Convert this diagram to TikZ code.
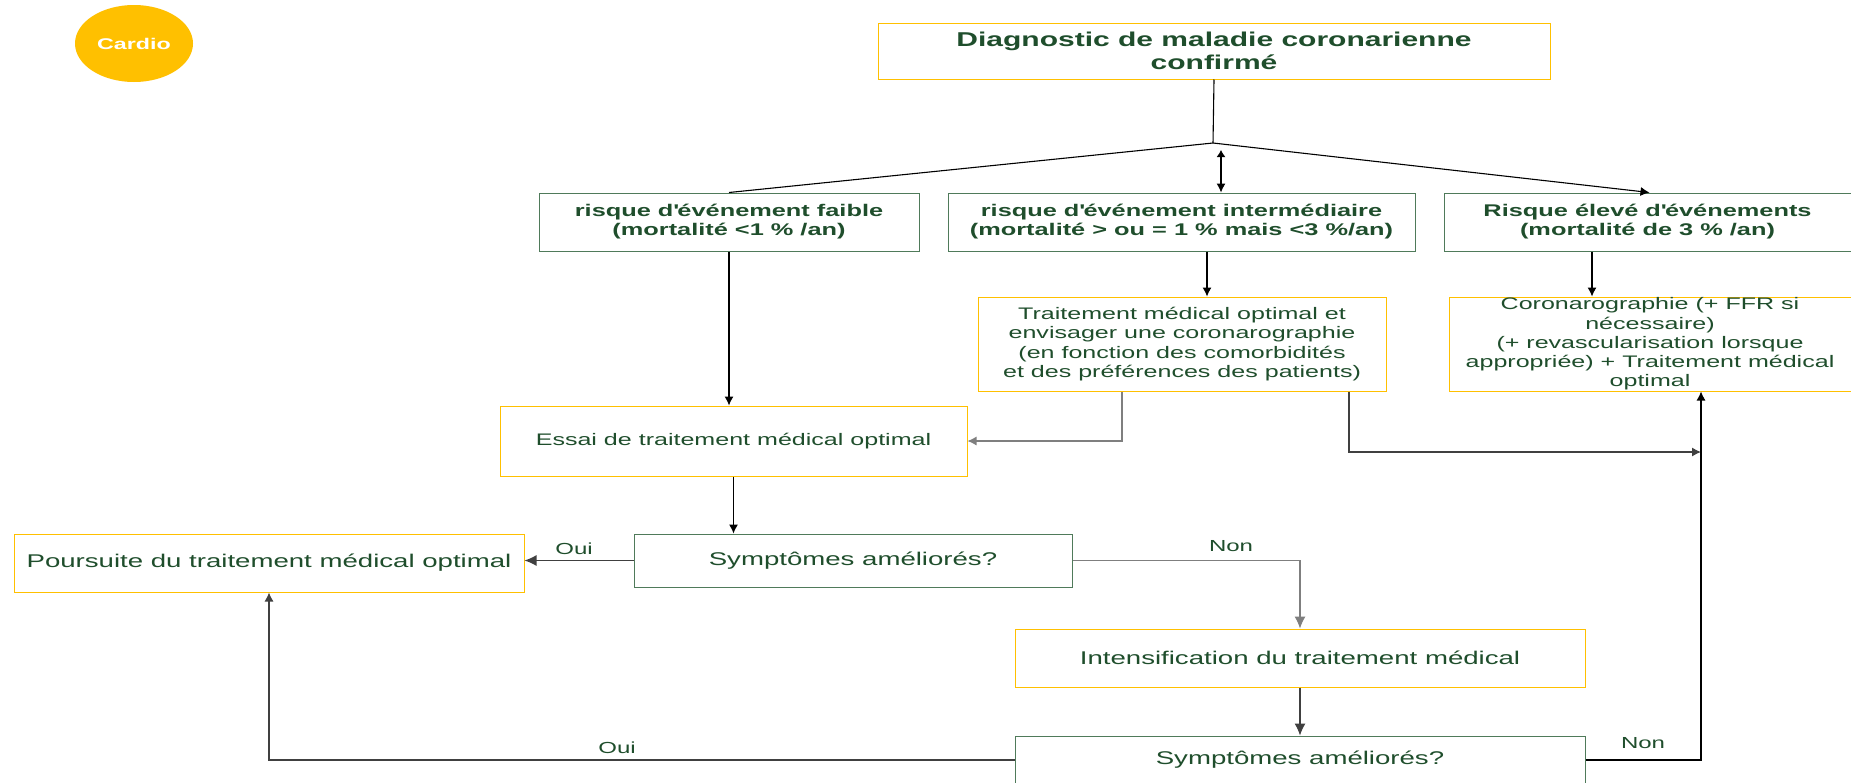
\documentclass[tikz,border=0pt]{standalone}
\usepackage{fontspec}
\setmainfont{Liberation Sans}[FakeStretch=1.5]
\usetikzlibrary{arrows.meta,shapes.geometric}
\definecolor{txt}{HTML}{1F4E2C}
\definecolor{gbord}{HTML}{4F7A5A}
\definecolor{ybord}{HTML}{FFC000}
\definecolor{lgray}{HTML}{7F7F7F}
\definecolor{dgray}{HTML}{404040}
\newcommand\apq{\textquotesingle}
\tikzset{
  box/.style={rectangle, inner sep=0pt, align=center, text=txt, line width=1pt},
  ybox/.style={box, draw=ybord},
  gbox/.style={box, draw=gbord},
  hfont/.style={font=\fontsize{16.9}{19}\selectfont\bfseries},
  mfont/.style={font=\fontsize{16.7}{19.3}\selectfont},
  lfont/.style={font=\fontsize{18.4}{22}\selectfont},
  lab/.style={text=txt, font=\fontsize{16}{19}\selectfont, inner sep=0pt},
  ln/.style={draw=black, line width=1.1pt},
  arr/.style={ln, -{Latex[length=9pt,width=9pt]}},
  barr/.style={ln, -{Latex[length=12pt,width=11pt]}},
}
\begin{document}
\begin{tikzpicture}[x=1pt,y=-1pt]
\clip (0,0) rectangle (1851,782);
\fill[white] (0,0) rectangle (1851,782);

\node[ellipse, fill=ybord, minimum width=118pt, minimum height=77pt, inner sep=0pt,
      text=white, font=\fontsize{15.5}{18}\selectfont\bfseries] (cardio) at (134,43.5) {Cardio};

\node[ybox, minimum width=672pt, minimum height=56pt, font=\fontsize{20}{23}\selectfont\bfseries]
  (top) at (1214,51) {Diagnostic de maladie coronarienne\\confirmé};

\node[gbox, hfont, minimum width=380pt, minimum height=58pt] (r1) at (729,222)
  {risque d\apq événement faible\\(mortalité <1 \% /an)};
\node[gbox, hfont, minimum width=467pt, minimum height=58pt] (r2) at (1181.5,222)
  {risque d\apq événement intermédiaire\\(mortalité > ou = 1 \% mais <3 \%/an)};
\node[gbox, hfont, minimum width=407pt, minimum height=58pt] (r3) at (1647.5,222)
  {Risque élevé d\apq événements\\(mortalité de 3 \% /an)};

\node[ybox, mfont, minimum width=408pt, minimum height=94pt] (treat) at (1182,344)
  {Traitement médical optimal et\\envisager une coronarographie\\(en fonction des comorbidités\\et des préférences des patients)};
\node[ybox, mfont, minimum width=402pt, minimum height=94pt] (coro) at (1650,344)
  {Coronarographie (+ FFR si\\nécessaire)\\(+ revascularisation lorsque\\appropriée) + Traitement médical\\optimal};

\node[ybox, mfont, minimum width=467pt, minimum height=70pt] (essai) at (733.5,441)
  {Essai de traitement médical optimal};

\node[gbox, lfont, minimum width=438pt, minimum height=53pt] (symp1) at (853,560.5)
  {Symptômes améliorés?};
\node[ybox, lfont, minimum width=510pt, minimum height=58pt] (pours) at (269,563)
  {Poursuite du traitement médical optimal};
\node[ybox, lfont, minimum width=570pt, minimum height=58pt] (intens) at (1300,658)
  {Intensification du traitement médical};
\node[gbox, lfont, minimum width=570pt, minimum height=48pt] (symp2) at (1300,760)
  {Symptômes améliorés?};

% connectors
\coordinate (J) at (1213,143);
\coordinate (J2) at (1221,146);
\coordinate (cj) at (1701,452);
\draw[ln] (top.south) -- (J);
\draw[ln] (J) -- (r1.north);
\draw[arr] (J) -- ([xshift=2pt]r3.north);
\draw[ln, {Latex[length=7pt,width=9pt]}-{Latex[length=9pt,width=9pt]}] ([yshift=-4pt]J2) -- (J2 |- r2.north);

\draw[arr] (r1.south) -- (r1.south |- essai.north);
\draw[arr] ([xshift=25.5pt]r2.south) -- ([xshift=25.5pt]r2.south |- treat.north);
\draw[arr] ([xshift=-55.5pt]r3.south) -- ([xshift=-55.5pt]r3.south |- coro.north);

\draw[arr, draw=lgray] ([xshift=-60pt]treat.south) |- (essai.east);
\draw[arr, draw=dgray] ([xshift=167pt]treat.south) |- (cj);
\draw[arr] (symp2.east) -| ([xshift=51pt]coro.south);
\node[lab] (non2) at (1643,743) {Non};

\draw[arr] (essai.south) -- (essai.south |- symp1.north);
\draw[barr, draw=dgray] (symp1.west) -- (symp1.west -| pours.east);
\node[lab] (oui1) at (574,549) {Oui};

\draw[barr, draw=lgray] (symp1.east) -| (intens.north);
\node[lab] (non1) at (1231,546) {Non};

\draw[barr, draw=dgray] (intens.south) -- (symp2.north);

\draw[arr, draw=dgray] (symp2.west) -| (pours.south);
\node[lab] (oui2) at (617,748) {Oui};
\end{tikzpicture}
\end{document}
